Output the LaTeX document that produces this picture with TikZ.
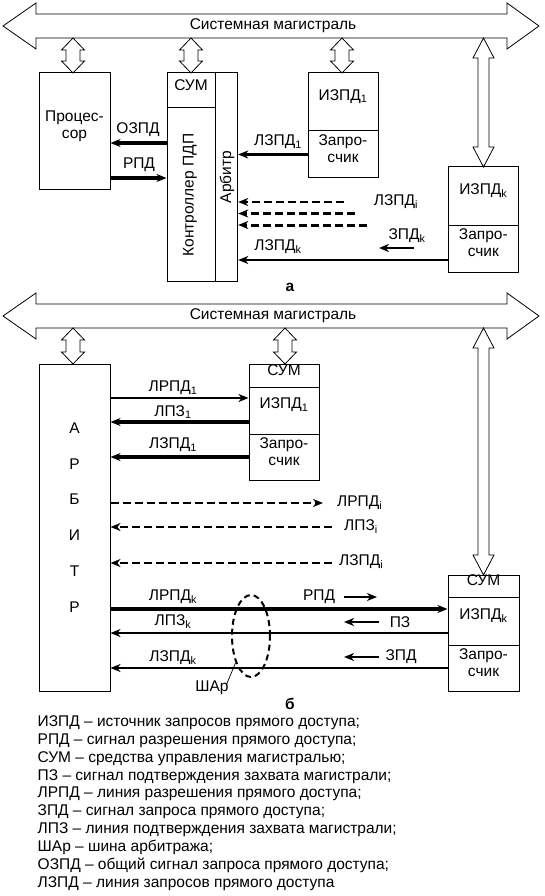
\documentclass[tikz,border=0pt]{standalone}
\usepackage{fontspec}
\setmainfont{Liberation Sans}
\usetikzlibrary{arrows.meta,fit,shapes.geometric}
\newcommand\fs{\fontsize{15.5}{17}\selectfont}
\newcommand\cell[6]{\node[cellbox, fit={(#2,#3) (#4,#5)}] (#1) {#6};}
\newcommand\hollowarrow[6]{\draw[hollow] ({#1-#4},{#2+#6}) -- ({#1-#5},{#2+#6}) -- (#1,#2) -- ({#1+#5},{#2+#6}) -- ({#1+#4},{#2+#6}) -- ({#1+#4},{#3-#6}) -- ({#1+#5},{#3-#6}) -- (#1,#3) -- ({#1-#5},{#3-#6}) -- ({#1-#4},{#3-#6}) -- cycle;}
\newcommand\busarrow[1]{\draw[hollow] (3,#1) -- (36,{#1-23}) -- (36,{#1-12}) -- (507,{#1-12}) -- (507,{#1-23}) -- (539,#1) -- (507,{#1+23}) -- (507,{#1+12}) -- (36,{#1+12}) -- (36,{#1+23}) -- cycle;}
\tikzset{
  cellbox/.style={draw, line width=1pt, inner sep=0pt, align=center},
  hollow/.style={draw, line width=0.8pt, line join=miter},
  arrtip/.style={-{Stealth[length=10pt,width=8pt,inset=3pt]}},
  sigA/.style={arrtip, line width=2.2pt},
  sigB/.style={arrtip, line width=3.4pt},
  dsh/.style={arrtip, line width=2.4pt, dash pattern=on 8pt off 4pt},
  lbl/.style={inner sep=0pt},
  captext/.style={inner sep=0pt, font=\fs\bfseries},
}
\begin{document}
\begin{tikzpicture}[x=1pt,y=-1pt,font=\fs]
\useasboundingbox (0,0) rectangle (545,896);
% ================= part a =================
\busarrow{26}
\node[lbl] (busA) at (273,26) {Системная магистраль};
\hollowarrow{73}{38}{73}{7}{11.5}{12}
\hollowarrow{191}{38}{73}{7}{11.5}{12}
\hollowarrow{342}{38}{73}{7}{11.5}{12}
\hollowarrow{483.5}{38}{167}{5.5}{10.5}{20}
% processor
\cell{proc}{39}{73}{110}{190}{Процес-\\сор}
% controller
\cell{sumA}{167}{73}{215}{108}{СУМ}
\cell{ctrl}{167}{108}{215}{281}{}
\cell{arbA}{215}{73}{237.7}{281}{}
\node[lbl, rotate=90] (ctrlT) at (190,195) {Контроллер ПДП};
\node[lbl, rotate=90] (arbT) at (227,177) {Арбитр};
% IZPD1
\cell{izA}{308}{73}{378}{131}{ИЗПД\textsubscript{1}}
\cell{zaA}{308}{131}{378}{178}{Запро-\\счик}
% IZPDk
\cell{izK}{448}{167}{518.6}{225}{ИЗПД\textsubscript{k}}
\cell{zaK}{448}{225}{518.6}{272}{Запро-\\счик}
% arrows a
\draw[sigB] (ctrl.west |- 0,143) -- (proc.east |- 0,143);
\node[lbl] (lozpd) at (138,130) {ОЗПД};
\draw[sigB] (proc.east |- 0,178) -- (ctrl.west |- 0,178);
\node[lbl] (lrpd) at (139,165) {РПД};
\draw[sigA] (zaA.west) -- (arbA.east |- zaA.west);
\node[lbl] (llzpd1) at (278,142) {ЛЗПД\textsubscript{1}};
\coordinate (da1) at (344,202);
\coordinate (da2) at (354.5,213.5);
\coordinate (da3) at (367,225);
\draw[dsh, line width=2pt] (da1) -- (arbA.east |- da1);
\draw[dsh, line width=3pt] (da2) -- (arbA.east |- da2);
\draw[dsh, line width=3pt] (da3) -- (arbA.east |- da3);
\node[lbl] (llzpdi) at (396,202) {ЛЗПД\textsubscript{i}};
\draw[sigA] (zaK.west |- 0,260) -- (arbA.east |- 0,260);
\node[lbl] (llzpdk) at (278,247) {ЛЗПД\textsubscript{k}};
\coordinate (zk1) at (414,248);
\coordinate (zk2) at (379,248);
\draw[sigA] (zk1) -- (zk2);
\node[lbl] (lzpdk) at (407,236) {ЗПД\textsubscript{k}};
\node[captext] (capA) at (290,287) {а};
% ================= part b =================
\busarrow{316}
\node[lbl] (busB) at (273,316) {Системная магистраль};
\hollowarrow{73}{328}{364}{7}{11.5}{12}
\hollowarrow{285}{328}{364}{7}{11.5}{12}
\hollowarrow{483.5}{328}{575}{5.5}{10.5}{20}
% arbiter
\cell{arbB}{39}{364}{110}{691}{}
\foreach \l [count=\k from 0] in {А,Р,Б,И,Т,Р}
  \node[lbl] (arbL\k) at (74.5,{428+35.8*\k}) {\l};
% IZPD1 b
\cell{sumB}{249}{364}{319}{387}{СУМ}
\cell{izB}{249}{387}{319}{434}{ИЗПД\textsubscript{1}}
\cell{zaB}{249}{434}{319}{480}{Запро-\\счик}
% IZPDk b
\cell{sumK}{448}{575}{519}{597}{СУМ}
\cell{izKB}{448}{597}{519}{645}{ИЗПД\textsubscript{k}}
\cell{zaKB}{448}{645}{519}{691}{Запро-\\счик}
% arrows b
\draw[sigA] (arbB.east |- 0,398) -- (izB.west |- 0,398);
\node[lbl] (llrpd1) at (173,388) {ЛРПД\textsubscript{1}};
\draw[sigB] (izB.west |- 0,422) -- (arbB.east |- 0,422);
\node[lbl] (llpz1) at (173,412) {ЛПЗ\textsubscript{1}};
\draw[sigB] (zaB.west) -- (arbB.east |- zaB.west);
\node[lbl] (llzpd1b) at (173,445) {ЛЗПД\textsubscript{1}};
\coordinate (db1) at (323,503);
\coordinate (db2) at (332,527);
\coordinate (db3) at (332,563);
\draw[dsh] (arbB.east |- db1) -- (db1);
\node[lbl, anchor=west] (llrpdi) at (337,503) {ЛРПД\textsubscript{i}};
\draw[dsh] (db2) -- (arbB.east |- db2);
\node[lbl, anchor=west] (llpzi) at (344,527) {ЛПЗ\textsubscript{i}};
\draw[dsh] (db3) -- (arbB.east |- db3);
\node[lbl, anchor=west] (llzpdib) at (339,562) {ЛЗПД\textsubscript{i}};
\draw[sigB] (arbB.east |- 0,609) -- (izKB.west |- 0,609);
\node[lbl] (llrpdk) at (173,597) {ЛРПД\textsubscript{k}};
\draw[sigA, line width=2.6pt] (izKB.west |- 0,633) -- (arbB.east |- 0,633);
\node[lbl] (llpzk) at (173,622) {ЛПЗ\textsubscript{k}};
\draw[sigA, line width=2.6pt] (zaKB.west |- 0,668) -- (arbB.east |- 0,668);
\node[lbl] (llzpdk2) at (173,658) {ЛЗПД\textsubscript{k}};
% small signal arrows
\node[lbl] (srpd) at (319,597) {РПД};
\coordinate (s1a) at (344,597); \coordinate (s1b) at (377,597);
\draw[sigA] (s1a) -- (s1b);
\node[lbl] (spz) at (400,622) {ПЗ};
\coordinate (s2a) at (379,622); \coordinate (s2b) at (344,622);
\draw[sigA] (s2a) -- (s2b);
\node[lbl] (szpd) at (401,657) {ЗПД};
\coordinate (s3a) at (379,657); \coordinate (s3b) at (344,657);
\draw[sigA] (s3a) -- (s3b);
% arbitration bus ellipse
\node[draw, ellipse, line width=2pt, dash pattern=on 6pt off 4pt, minimum width=38pt, minimum height=82pt, inner sep=0pt] (shar) at (251,636) {};
\node[lbl] (sharT) at (212,688) {ШАр};
\draw[line width=0.7pt] (sharT.north east) ++(-2,3) -- (shar.240);
\node[captext] (capB) at (290,704) {б};
% legend
\foreach \t [count=\k from 0] in {%
  {ИЗПД – источник запросов прямого доступа;},
  {РПД – сигнал разрешения прямого доступа;},
  {СУМ – средства управления магистралью;},
  {ПЗ – сигнал подтверждения захвата магистрали;},
  {ЛРПД – линия разрешения прямого доступа;},
  {ЗПД – сигнал запроса прямого доступа;},
  {ЛПЗ – линия подтверждения захвата магистрали;},
  {ШАр – шина арбитража;},
  {ОЗПД – общий сигнал запроса прямого доступа;},
  {ЛЗПД – линия запросов прямого доступа}}
  \node[lbl, anchor=west] (leg\k) at (37.5,{723+17.8*\k}) {\t};
\end{tikzpicture}
\end{document}
